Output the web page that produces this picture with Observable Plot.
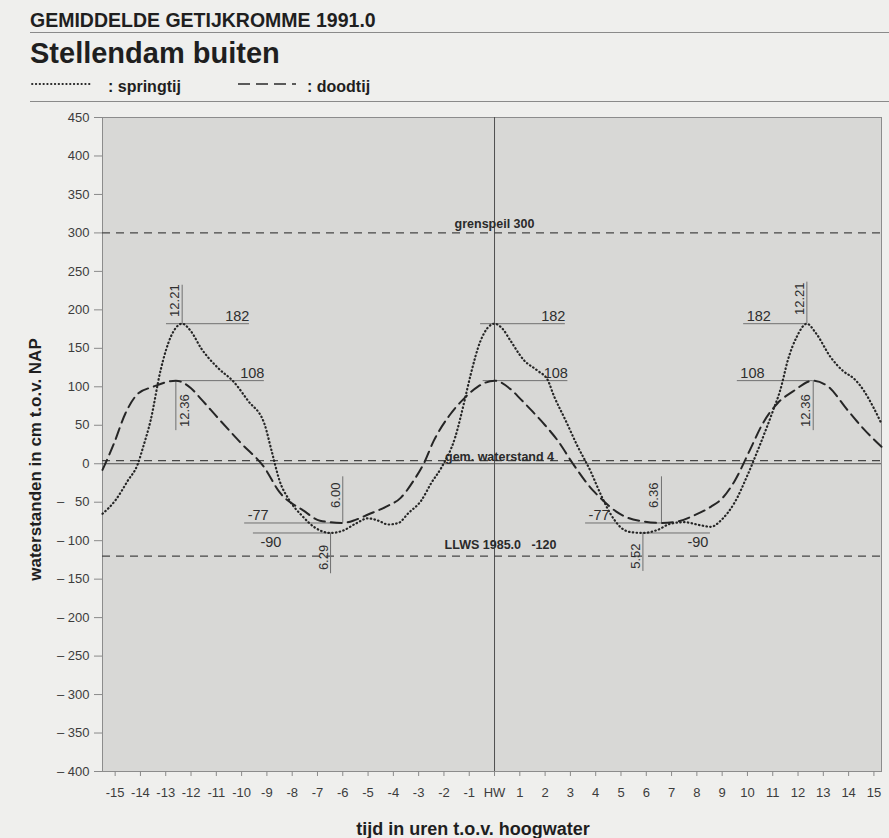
<!DOCTYPE html>
<html lang="nl">
<head>
<meta charset="utf-8">
<title>Gemiddelde getijkromme 1991.0 – Stellendam buiten</title>
<script src="https://cdn.jsdelivr.net/npm/d3@7"></script>
<script src="https://cdn.jsdelivr.net/npm/@observablehq/plot@0.6"></script>
<style>
  html, body { margin: 0; padding: 0; background: #efefed; }
  #page { position: relative; width: 889px; height: 838px; overflow: hidden;
          font-family: "Liberation Sans", Arial, Helvetica, sans-serif; color: #1f1f1f; }
  .head { position: absolute; left: 30px; font-weight: bold; line-height: 1; white-space: nowrap; }
  #title { top: 11px; font-size: 19.5px; }
  #station { top: 39px; font-size: 29px; }
  .rule { position: absolute; left: 30px; width: 859px; height: 1px; background: #8a8a8a; }
  #legend { position: absolute; left: 0; top: 76px; width: 889px; height: 20px;
            font-weight: bold; font-size: 16px; }
  #legend svg { position: absolute; top: 0; }
  #legend span { position: absolute; top: 3px; line-height: 1; white-space: nowrap; }
  #chart { position: absolute; left: 0; top: 100px; }
</style>
</head>
<body>
<div id="page">
  <div id="title" class="head">GEMIDDELDE GETIJKROMME 1991.0</div>
  <div class="rule" style="top:32px"></div>
  <div id="station" class="head">Stellendam buiten</div>
  <div id="legend">
    <svg style="left:30px" width="64" height="20">
      <line x1="2" x2="62" y1="8" y2="8" stroke="#2a2a2a" stroke-width="1.8"
            stroke-dasharray="0.5 3.3" stroke-linecap="round"/>
    </svg>
    <span style="left:108px">: springtij</span>
    <svg style="left:236px" width="66" height="20">
      <line x1="2" x2="64" y1="8" y2="8" stroke="#2a2a2a" stroke-width="1.6"
            stroke-dasharray="12 6 12 6 12 6 4 20"/>
    </svg>
    <span style="left:307px">: doodtij</span>
  </div>
  <div class="rule" style="top:101px"></div>
  <div id="chart"></div>
</div>
<script>
// Springtij (spring tide): hours relative to high water, level in cm NAP
const springTime = [-15.5, -15.0, -14.5, -14.1, -13.9, -13.6, -13.2, -12.8, -12.35, -12.0, -11.6, -10.95,
  -10.3, -9.75, -9.1, -8.8, -8.5, -8.1, -7.6, -7.1, -6.483, -6.0, -5.5, -5.0, -4.6, -4.2, -3.8, -3.4,
  -2.9, -2.5, -2.1, -1.55, -1.2, -0.95, -0.55, 0, 0.3, 0.63, 1.15, 1.7, 2.1, 2.35, 2.8, 3.25, 3.8,
  4.2, 4.6, 5.0, 5.4, 5.867, 6.45, 6.95, 7.5, 8.15, 8.55, 9.0, 9.5, 10.0, 10.5, 11.0, 11.3, 11.6,
  11.95, 12.35, 12.7, 13.3, 13.8, 14.2, 14.6, 15.0, 15.3];
const springLevel = [-65, -48, -22, 0, 21, 56, 122, 165, 182, 172, 150, 125,
  106, 82, 52, 15, -22, -48, -68, -83, -90, -87, -78, -71, -74, -79, -77, -64,
  -48, -25, -5, 35, 80, 115, 160, 182, 176, 160, 135, 121, 109, 88, 57, 25, -10,
  -40, -66, -83, -89, -90, -86, -78, -76, -80, -82, -72, -50, -15, 25, 68, 96, 135,
  165, 182, 170, 138, 120, 111, 95, 72, 52];

// Doodtij (neap tide)
const neapTime = [-15.5, -15.05, -14.6, -14.1, -13.5, -12.6, -12.0, -11.6, -10.95, -10.0, -9.1, -8.5,
  -7.55, -6.9, -6.0, -5.5, -5.0, -4.3, -3.7, -3.2, -2.8, -2.4, -1.8, -1.2, -0.67, 0, 0.63, 1.03,
  1.5, 2.0, 2.5, 3.1, 3.9, 4.3, 4.8, 5.25, 5.9, 6.6, 7.25, 7.9, 8.55, 9.0, 9.5, 10.1, 10.6,
  11.2, 11.8, 12.6, 13.2, 13.95, 14.6, 15.3];
const neapLevel = [-8, 26, 65, 91, 100, 108, 98, 84, 60, 26, -5, -37,
  -61, -74, -77, -73, -66, -56, -44, -22, 0, 30, 62, 85, 100, 108, 97, 84,
  68, 50, 30, 0, -35, -48, -62, -70, -75, -77, -75, -67, -56, -45, -22, 18, 52,
  79, 94, 108, 100, 70, 45, 22];

// High and low water: times as hours.minutes after/before HW, levels in cm
const hwSpringTimes = ["-12.21", "0", "12.21"];
const hwSpringLevel = 182;
const hwNeapTimes = ["-12.36", "0", "12.36"];
const hwNeapLevel = 108;
const lwSpringTimes = ["-6.29", "5.52"];
const lwSpringLevel = -90;
const lwNeapTimes = ["-6.00", "6.36"];
const lwNeapLevel = -77;

// Reference levels
const refLevels = [300, 4, -120];
const refLabels = ["grenspeil 300", "gem. waterstand 4", "LLWS 1985.0   -120"];

// Axis ticks
const xTicks = d3.range(-15, 16);
const yTicks = d3.range(-400, 451, 50);

// "h.mm" → decimal hours
const hm = s => {
  const neg = s.startsWith("-");
  const [h, m = "0"] = s.replace("-", "").split(".");
  const v = +h + (+m) / 60;
  return neg ? -v : v;
};

const spring = springTime.map((t, i) => ({t, h: springLevel[i]}));
const neap = neapTime.map((t, i) => ({t, h: neapLevel[i]}));

// Leader lines for each extreme: horizontal span (hours around the extreme),
// where the value sits, length of the vertical stem (cm) and side of the time label
const ann = [
  {time: hwSpringTimes[0], level: hwSpringLevel, span: [-0.62, 2.66], at: "end", below: false, stem: 50, side: "left"},
  {time: hwSpringTimes[1], level: hwSpringLevel, span: [-0.55, 2.8], at: "end", below: false, stem: 0},
  {time: hwSpringTimes[2], level: hwSpringLevel, span: [-2.5, 0], at: "start", below: false, stem: 54, side: "left"},
  {time: hwNeapTimes[0], level: hwNeapLevel, span: [0, 3.5], at: "end", below: false, stem: -65, side: "right"},
  {time: hwNeapTimes[1], level: hwNeapLevel, span: [-0.45, 2.9], at: "end", below: false, stem: 0},
  {time: hwNeapTimes[2], level: hwNeapLevel, span: [-3.0, 0], at: "start", below: false, stem: -65, side: "left"},
  {time: lwSpringTimes[0], level: lwSpringLevel, span: [-3.05, 0], at: "start", below: true, stem: -53, side: "left"},
  {time: lwSpringTimes[1], level: lwSpringLevel, span: [0, 2.67], at: "end", below: true, stem: -50, side: "left"},
  {time: lwNeapTimes[0], level: lwNeapLevel, span: [-3.88, 0], at: "start", below: false, stem: 60, side: "left"},
  {time: lwNeapTimes[1], level: lwNeapLevel, span: [-3.0, 0], at: "start", below: false, stem: 60, side: "left"}
].map(a => ({...a, t: hm(a.time)}));

const ink = "#262626";
const leader = "#707070";

const valueLabels = (at, below, dx) => Plot.text(ann.filter(a => a.at === at && a.below === below), {
  x: a => a.t + (at === "end" ? a.span[1] : a.span[0]),
  y: "level",
  text: a => String(a.level),
  textAnchor: at,
  lineAnchor: below ? "top" : "bottom",
  dx, dy: below ? 4 : -2.5,
  fontSize: 14.5, fill: "#2e2e2e"
});

const timeLabels = side => Plot.text(ann.filter(a => a.stem && a.side === side), {
  x: "t",
  y: a => a.level + a.stem * 0.6,
  text: a => a.time.replace("-", ""),
  rotate: -90,
  textAnchor: "middle",
  lineAnchor: side === "left" ? "bottom" : "top",
  dx: side === "left" ? -3 : 4,
  fontSize: 13, fill: "#2e2e2e"
});

const refLabel = (i, dx, dy) => Plot.text([refLevels[i]], {
  x: 0, y: d => d, text: [refLabels[i]],
  textAnchor: "middle", lineAnchor: "bottom",
  dx, dy, fontSize: 12.5, fontWeight: "bold", fill: "#2a2a2a"
});

const fmtY = d => d < 0 ? "\u2013 " + String(-d).padStart(3, "\u2007") : String(d);
const fmtX = d => d === 0 ? "HW" : String(d);

const chart = Plot.plot({
  width: 889,
  height: 738,
  marginLeft: 102,
  marginRight: 8,
  marginTop: 17,
  marginBottom: 67,
  x: {domain: [-15.5, 15.3]},
  y: {domain: [-400, 450]},
  style: {background: "transparent", fontFamily: "'Liberation Sans', Arial, Helvetica, sans-serif"},
  marks: [
    Plot.frame({fill: "#d8d8d6", stroke: "#8c8c8c"}),
    Plot.axisY(yTicks, {tickSize: 8, tickPadding: 5, tickFormat: fmtY, stroke: "#8a8a8a",
      fill: "#3c3c3c", fontSize: 13, label: null}),
    Plot.axisX(xTicks, {tickSize: 5, tickPadding: 11, tickFormat: fmtX, stroke: "#8a8a8a",
      fill: "#3c3c3c", fontSize: 13, label: null}),
    Plot.ruleX([0], {stroke: "#505050", strokeWidth: 1}),
    Plot.ruleY([0], {stroke: "#505050", strokeWidth: 1}),
    Plot.ruleY(refLevels, {stroke: "#464646", strokeWidth: 1.3, strokeDasharray: "8 6"}),
    refLabel(0, 0, -5),
    refLabel(1, 5, 0),
    refLabel(2, 6, -7),
    Plot.ruleY(ann, {y: "level", x1: a => a.t + a.span[0], x2: a => a.t + a.span[1],
      stroke: leader, strokeWidth: 1}),
    Plot.ruleX(ann.filter(a => a.stem), {x: "t", y1: "level", y2: a => a.level + a.stem,
      stroke: leader, strokeWidth: 1}),
    Plot.line(neap, {x: "t", y: "h", curve: "monotone-x", stroke: ink, strokeWidth: 2,
      strokeDasharray: "11 6"}),
    Plot.line(spring, {x: "t", y: "h", curve: "monotone-x", stroke: ink, strokeWidth: 2.2,
      strokeDasharray: "0.5 3.3", strokeLinecap: "round"}),
    valueLabels("end", false, 0),
    valueLabels("start", false, 3),
    valueLabels("end", true, -2),
    valueLabels("start", true, 7),
    timeLabels("left"),
    timeLabels("right"),
    Plot.text(["tijd in uren t.o.v. hoogwater"], {frameAnchor: "bottom", dx: -19, dy: 63,
      textAnchor: "middle", lineAnchor: "bottom", fontSize: 18, fontWeight: "bold", fill: "#1f1f1f"}),
    Plot.text(["waterstanden in cm t.o.v. NAP"], {frameAnchor: "left", rotate: -90, dx: -67, dy: 15,
      textAnchor: "middle", lineAnchor: "middle", fontSize: 17, fontWeight: "bold", fill: "#1f1f1f"})
  ]
});

document.getElementById("chart").append(chart);
</script>
</body>
</html>
